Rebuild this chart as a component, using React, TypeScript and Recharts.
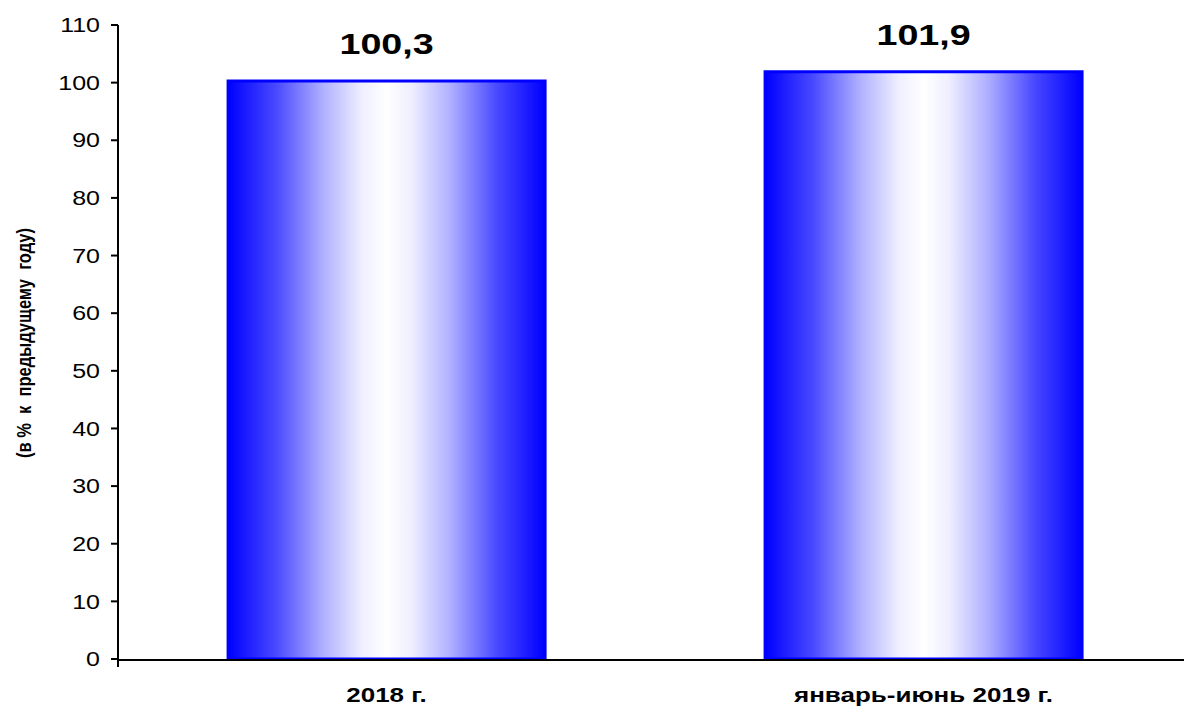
import React from 'react';
import { BarChart, Bar, XAxis, YAxis, LabelList, Label } from 'recharts';

const categories = ['2018 г.', 'январь-июнь 2019 г.'];
const values = [100.3, 101.9];
const yTicks = [0, 10, 20, 30, 40, 50, 60, 70, 80, 90, 100, 110];
const boundaryTicks = [0, 1, 2];

const data = categories.map((name, i) => ({ name, value: values[i] }));

const FONT = 'Arial, "Liberation Sans", sans-serif';
const STRETCH = 1.25;

const YTick = (props: any) => {
  const { x, y, payload } = props;
  return (
    <text transform={`translate(${x},${y}) scale(${STRETCH},1)`} textAnchor="end" dy="0.36em"
      fontFamily={FONT} fontSize={20} fill="#000">
      {payload.value}
    </text>
  );
};

const XTick = (props: any) => {
  const { x, y, payload } = props;
  return (
    <text transform={`translate(${x},${y}) scale(1.3,1)`} textAnchor="middle" dy={41}
      fontFamily={FONT} fontSize={20} fontWeight="bold" fill="#000">
      {payload.value}
    </text>
  );
};

const NoText = () => <g />;

const ValueLabel = (props: any) => {
  const { x, y, width, value } = props;
  return (
    <text transform={`translate(${x + width / 2},${y - 27}) scale(1.3,1)`} textAnchor="middle"
      fontFamily={FONT} fontSize={29} fontWeight="bold" fill="#000">
      {String(value).replace('.', ',')}
    </text>
  );
};

const AxisTitle = (props: any) => {
  const { viewBox } = props;
  const cx = viewBox.x + 24;
  const cy = viewBox.y + viewBox.height / 2 + 1;
  return (
    <text transform={`translate(${cx},${cy}) rotate(-90) scale(1,1.25)`} textAnchor="middle" dy="0.35em"
      fontFamily={FONT} fontSize={16.5} fontWeight="bold" fill="#000" style={{ whiteSpace: 'pre' }}>
      (в %  к  предыдущему  году)
    </text>
  );
};

export default function App() {
  return (
    <div style={{ position: 'absolute', left: 0, top: 0, width: 1184, height: 706, overflow: 'hidden', background: '#fff' }}>
      <BarChart width={1200} height={706} data={data}
        margin={{ top: 25, right: 8, bottom: 0, left: 0 }} barCategoryGap="20.5%">
        <defs>
          <linearGradient id="barGrad" x1="0" y1="0" x2="1" y2="0">
            <stop offset="0" stopColor="#0000ff" />
            <stop offset="0.15" stopColor="#4848ff" />
            <stop offset="0.3" stopColor="#b0b0ff" />
            <stop offset="0.42" stopColor="#eeeeff" />
            <stop offset="0.5" stopColor="#ffffff" />
            <stop offset="0.58" stopColor="#eeeeff" />
            <stop offset="0.7" stopColor="#b0b0ff" />
            <stop offset="0.85" stopColor="#4848ff" />
            <stop offset="1" stopColor="#0000ff" />
          </linearGradient>
        </defs>
        <XAxis dataKey="name" xAxisId="cat" height={1} tickSize={0} tickLine={false} axisLine={false}
          tick={<XTick />} />
        <XAxis xAxisId="edge" type="number" domain={[0, 2]} ticks={boundaryTicks} tick={<NoText />}
          tickSize={7} height={46} axisLine={{ stroke: '#000', strokeWidth: 2 }}
          tickLine={{ stroke: '#000', strokeWidth: 2 }} />
        <YAxis width={118} domain={[0, 110]} ticks={yTicks} interval={0} tickSize={7} tickMargin={11}
          axisLine={{ stroke: '#000', strokeWidth: 2 }} tickLine={{ stroke: '#000', strokeWidth: 2 }}
          tick={<YTick />}>
          <Label content={<AxisTitle />} />
        </YAxis>
        <Bar dataKey="value" xAxisId="cat" fill="url(#barGrad)" stroke="#0000ff" strokeWidth={3}
          isAnimationActive={false}>
          <LabelList dataKey="value" content={<ValueLabel />} />
        </Bar>
      </BarChart>
    </div>
  );
}
